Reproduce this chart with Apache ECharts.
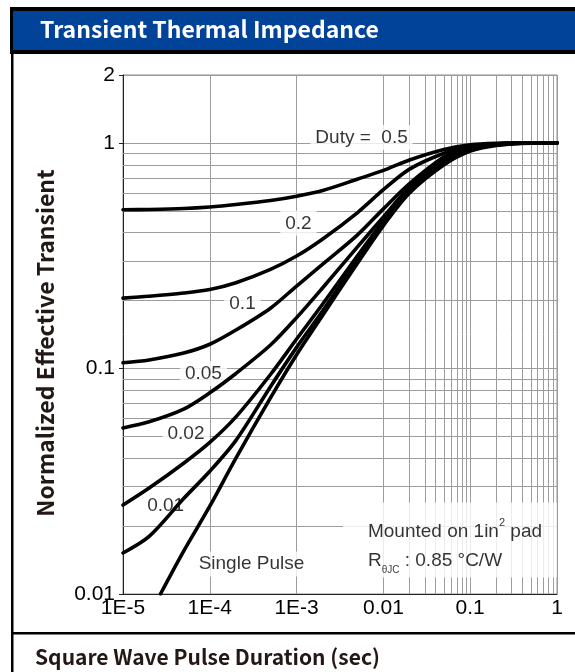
<!DOCTYPE html>
<html>
<head>
<meta charset="utf-8">
<script src="https://cdn.jsdelivr.net/npm/echarts@6/dist/echarts.min.js"></script>
<style>
html,body{margin:0;padding:0;background:#fff;}
#chart{width:575px;height:672px;}
</style>
</head>
<body>
<div id="chart"></div>
<script>
// ---- data ----
const pulseTime = [1e-5, 2e-5, 5e-5, 1e-4, 2e-4, 5e-4, 1e-3, 2e-3, 5e-3, 1e-2, 2e-2, 5e-2, 0.1, 0.2, 0.5, 1];
const duty050 = [0.505, 0.507, 0.512, 0.52, 0.533, 0.555, 0.58, 0.615, 0.69, 0.755, 0.84, 0.935, 0.98, 0.995, 1.0, 1.0];
const duty020 = [0.205, 0.209, 0.216, 0.224, 0.24, 0.275, 0.315, 0.375, 0.49, 0.62, 0.765, 0.90, 0.965, 0.99, 1.0, 1.0];
const duty010 = [0.106, 0.109, 0.117, 0.128, 0.148, 0.185, 0.232, 0.29, 0.39, 0.51, 0.66, 0.865, 0.95, 0.988, 1.0, 1.0];
const duty005 = [0.0545, 0.058, 0.066, 0.078, 0.095, 0.127, 0.168, 0.228, 0.345, 0.47, 0.635, 0.84, 0.942, 0.985, 1.0, 1.0];
const duty002 = [0.0248, 0.0295, 0.038, 0.047, 0.061, 0.094, 0.135, 0.193, 0.315, 0.45, 0.62, 0.825, 0.932, 0.981, 1.0, 1.0];
const duty001 = [0.0152, 0.018, 0.0265, 0.035, 0.048, 0.083, 0.124, 0.18, 0.303, 0.44, 0.61, 0.812, 0.925, 0.978, 1.0, 1.0];
const singleTime = [2.7e-5, 5e-5, 1e-4, 2e-4, 5e-4, 1e-3, 2e-3, 5e-3, 1e-2, 2e-2, 5e-2, 0.1, 0.2, 0.5, 1];
const singlePulse = [0.01, 0.0155, 0.0245, 0.040, 0.074, 0.115, 0.172, 0.292, 0.43, 0.60, 0.80, 0.92, 0.975, 0.998, 1.0];

const xTickValues = [1e-5, 1e-4, 1e-3, 0.01, 0.1, 1];
const xTickLabels = ['1E-5', '1E-4', '1E-3', '0.01', '0.1', '1'];
const yTickValues = [0.01, 0.1, 1, 2];
const yTickLabels = ['0.01', '0.1', '1', '2'];

const xMinorGrid = [2e-5,3e-5,4e-5,5e-5,6e-5,7e-5,8e-5,9e-5,
  2e-4,3e-4,4e-4,5e-4,6e-4,7e-4,8e-4,9e-4,
  2e-3,3e-3,4e-3,5e-3,6e-3,7e-3,8e-3,9e-3,
  0.02,0.03,0.04,0.05,0.06,0.07,0.08,0.09,
  0.2,0.3,0.4,0.5,0.6,0.7,0.8,0.9];
const yMinorGrid = [0.02,0.03,0.04,0.05,0.06,0.07,0.08,0.09,
  0.2,0.3,0.4,0.5,0.6,0.7,0.8,0.9];

const noteText = ['Duty =  0.5', '0.2', '0.1', '0.05', '0.02', '0.01', 'Single Pulse'];
const noteTime = [5.6e-3, 1.05e-3, 2.38e-4, 8.45e-5, 5.32e-5, 3.1e-5, 3.02e-4];
const noteValue = [1.057, 0.44, 0.194, 0.095, 0.0512, 0.0246, 0.0136];

// left-middle anchor of the "Mounted on" note box
const boxTime = 3.42e-3;
const boxValue = 0.01736;

const titleText = 'Transient Thermal Impedance';
const yTitleText = 'Normalized Effective Transient';
const xTitleText = 'Square Wave Pulse Duration (sec)';

// ---- helpers ----
function pair(xs, ys) { return xs.map((x, i) => [x, ys[i]]); }
function fmt(values, labels) {
  return function (v) {
    for (let i = 0; i < values.length; i++) {
      if (Math.abs(Math.log10(v) - Math.log10(values[i])) < 1e-6) return labels[i];
    }
    return '';
  };
}

const curveStyle = { color: '#000', width: 3.6, cap: 'round', join: 'round' };
function curve(name, xs, ys) {
  return {
    name: name, type: 'line', data: pair(xs, ys), showSymbol: false, symbol: 'none',
    smooth: 0.3, z: 5, lineStyle: curveStyle, clip: true, silent: true
  };
}

const labelFont = 'Liberation Sans, Arial, sans-serif';
const titleFont = 'Noto Sans CJK SC, Noto Sans, sans-serif';

const chart = echarts.init(document.getElementById('chart'), null, { renderer: 'canvas' });
const option = {
  animation: false,
  backgroundColor: '#fff',
  grid: { left: 123, right: 18, top: 75, bottom: 78, show: true, borderColor: '#8a8a8a', borderWidth: 1, backgroundColor: 'transparent' },
  xAxis: {
    type: 'log', logBase: 10, min: 1e-5, max: 1, splitNumber: 5,
    axisLine: { show: true, lineStyle: { color: '#222', width: 1 } },
    axisTick: { show: false },
    axisLabel: { color: '#000', fontSize: 21, fontFamily: labelFont, margin: 4, formatter: fmt(xTickValues, xTickLabels) },
    splitLine: { show: true, lineStyle: { color: '#9c9c9c', width: 1 } }
  },
  yAxis: {
    type: 'log', logBase: 10, min: 0.01, max: 2, splitNumber: 3,
    axisLine: { show: true, lineStyle: { color: '#222', width: 1 } },
    axisTick: { show: true, length: 4, lineStyle: { color: '#222' } },
    axisLabel: { color: '#000', fontSize: 21, fontFamily: labelFont, margin: 8, formatter: fmt(yTickValues, yTickLabels) },
    splitLine: { show: true, lineStyle: { color: '#9c9c9c', width: 1 } }
  },
  series: [
    {
      name: 'grid', type: 'line', data: [], z: 1, silent: true,
      markLine: {
        z: 1, silent: true, symbol: ['none', 'none'], label: { show: false }, animation: false,
        lineStyle: { color: '#9c9c9c', width: 1, type: 'solid' },
        emphasis: { disabled: true },
        data: xMinorGrid.map(v => ({ xAxis: v })).concat(yMinorGrid.map(v => ({ yAxis: v })))
      }
    },
    {
      name: 'notes', type: 'scatter', z: 3, silent: true, symbolSize: 0,
      data: noteText.map((t, i) => ({ value: [noteTime[i], noteValue[i]], name: t })),
      label: {
        show: true, position: 'inside', formatter: p => p.name, color: '#000',
        fontSize: 19, fontFamily: labelFont, backgroundColor: '#fff', padding: [3, 5]
      }
    },
    {
      name: 'box', type: 'scatter', z: 3, silent: true, symbolSize: 0,
      data: [{ value: [boxTime, boxValue] }],
      label: {
        show: true, position: 'inside', backgroundColor: '#fff',
        width: 179, height: 58, padding: [15, 10, 2, 25], align: 'left', verticalAlign: 'middle',
        formatter: '{a|Mounted on 1in}{sup|2}{a| pad}\n{a|R}{sub|θJC}{a| : 0.85 °C/W}',
        rich: {
          a: { fontSize: 19, fontFamily: labelFont, color: '#000', lineHeight: 29 },
          sup: { fontSize: 11, fontFamily: labelFont, color: '#000', verticalAlign: 'top', lineHeight: 20 },
          sub: { fontSize: 10, fontFamily: labelFont, color: '#000', verticalAlign: 'bottom', lineHeight: 14 }
        }
      }
    },
    curve('Duty 0.5', pulseTime, duty050),
    curve('Duty 0.2', pulseTime, duty020),
    curve('Duty 0.1', pulseTime, duty010),
    curve('Duty 0.05', pulseTime, duty005),
    curve('Duty 0.02', pulseTime, duty002),
    curve('Duty 0.01', pulseTime, duty001),
    curve('Single Pulse', singleTime, singlePulse)
  ],
  graphic: [
    { type: 'rect', shape: { x: 10, y: 7, width: 565, height: 47 }, style: { fill: '#000' }, z: 10 },
    { type: 'rect', shape: { x: 13, y: 11, width: 562, height: 39 }, style: { fill: '#02439a' }, z: 11 },
    { type: 'text', x: 40, y: 29, z: 12, style: { text: titleText, fill: '#fff', font: 'bold 23px ' + titleFont, textVerticalAlign: 'middle' } },
    { type: 'rect', shape: { x: 11, y: 54, width: 2.5, height: 618 }, style: { fill: '#000' }, z: 10 },
    { type: 'rect', shape: { x: 11, y: 632, width: 564, height: 2.5 }, style: { fill: '#000' }, z: 10 },
    { type: 'text', x: 35, y: 657, z: 12, style: { text: xTitleText, fill: '#231815', font: 'bold 21px ' + titleFont, textVerticalAlign: 'middle' } },
    { type: 'text', x: 45, y: 343, rotation: Math.PI / 2, z: 12, style: { text: yTitleText, fill: '#231815', font: 'bold 23px ' + titleFont, textAlign: 'center', textVerticalAlign: 'middle' } }
  ]
};
chart.setOption(option);
</script>
</body>
</html>
